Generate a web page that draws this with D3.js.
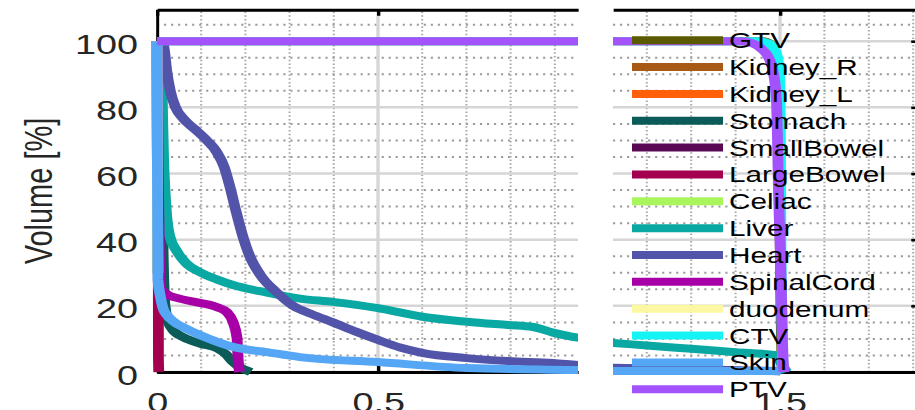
<!DOCTYPE html>
<html><head><meta charset="utf-8">
<script src="https://cdn.jsdelivr.net/npm/d3@7"></script>
<style>html,body{margin:0;padding:0;background:#fff;overflow:hidden}</style>
</head><body><svg id="c" width="915" height="410"></svg>
<script>
// ---------- data ----------
const structures = ["GTV","Kidney_R","Kidney_L","Stomach","SmallBowel","LargeBowel","Celiac","Liver","Heart","SpinalCord","duodenum","CTV","Skin","PTV"];
const colors = ["#5b5a00","#a85a14","#ff5f0a","#0b5c58","#5a0a55","#a3004f","#a8f55c","#0aa8a2","#5254aa","#a600a6","#fbf7a2","#14f4f4","#56a6f6","#a452fb"];

const gtvDose = [0, 1.46, 1.48, 1.492, 1.498, 1.502, 1.505];
const gtvVol  = [100, 100, 99, 95, 70, 20, 0];
const kidneyRDose = [0, 0.001, 0.002];
const kidneyRVol  = [100, 60, 30];
const kidneyLDose = [0, 0.001, 0.002];
const kidneyLVol  = [100, 60, 30];
const stomachDose = [0, 0.003, 0.007, 0.011, 0.014, 0.018, 0.026, 0.036, 0.06, 0.097, 0.136, 0.155, 0.172, 0.19, 0.205, 0.212];
const stomachVol  = [100, 95, 85, 60, 35, 20, 15, 12.7, 10.5, 8.6, 7.2, 5.5, 3.0, 1.2, 0.4, 0];
const smallBowelDose = [0, 0.001, 0.002];
const smallBowelVol  = [100, 60, 30];
const largeBowelDose = [0, 0.002, 0.003, 0.0032, 0.004];
const largeBowelVol  = [100, 60, 29, 5, 0];
const celiacDose = [0, 0.001, 0.002];
const celiacVol  = [100, 60, 30];
const liverDose = [0, 0.004, 0.011, 0.013, 0.015, 0.018, 0.022, 0.029, 0.045, 0.065, 0.097, 0.135, 0.172, 0.249, 0.3235, 0.398, 0.5, 0.6, 0.701, 0.794, 0.851, 0.896, 0.952, 1.124, 1.2, 1.3, 1.4, 1.49, 1.505, 1.515];
const liverVol  = [100, 96, 88, 75, 64, 55, 47, 41, 36.5, 33, 30.2, 28, 26.3, 24.0, 22.2, 21.2, 19.3, 16.7, 15.2, 14.2, 13.6, 11.9, 10.4, 8.8, 8.0, 7.0, 6.0, 5.1, 2, 0];
const heartDose = [0, 0.012, 0.017, 0.022, 0.03, 0.042, 0.06, 0.085, 0.113, 0.135, 0.152, 0.165, 0.178, 0.192, 0.21, 0.233, 0.2715, 0.3077, 0.35, 0.398, 0.45, 0.5, 0.55, 0.6, 0.701, 0.794, 0.896, 0.952, 1.124, 1.3, 1.45, 1.5, 1.505];
const heartVol  = [100, 100, 97, 91, 85, 80, 76.5, 73.5, 70, 66.5, 62, 56, 49, 42, 35, 29.5, 24, 20, 17.5, 15, 12.2, 9.7, 7.4, 5.8, 4.2, 3.3, 2.7, 2.1, 1.3, 0.8, 0.4, 0.2, 0];
const spinalCordDose = [0, 0.003, 0.006, 0.01, 0.025, 0.045, 0.097, 0.136, 0.158, 0.172, 0.181, 0.183, 0.186, 0.187];
const spinalCordVol  = [100, 60, 30, 25, 23.3, 22.4, 20.9, 19.6, 18.1, 15.1, 10.3, 5.1, 0.6, 0];
const duodenumDose = [0, 0.001, 0.002];
const duodenumVol  = [100, 60, 30];
const ctvDose = [0, 1.45, 1.475, 1.49, 1.497, 1.5, 1.501, 1.502, 1.504, 1.506, 1.507];
const ctvVol  = [100, 100, 99.3, 97, 93, 85, 70, 40, 20, 5, 0];
const skinDose = [0, 0.001, 0.002, 0.007, 0.0136, 0.0226, 0.036, 0.063, 0.097, 0.172, 0.249, 0.3235, 0.5, 0.701, 0.952, 1.124, 1.3, 1.45, 1.5, 1.505];
const skinVol  = [100, 60, 28, 23.3, 19.3, 17.2, 15.4, 13.3, 11.2, 7.6, 6.0, 4.5, 3.0, 1.2, 0.6, 0.3, 0.3, 0.3, 0.2, 0];
const ptvDose = [0, 1.41, 1.437, 1.459, 1.477, 1.486, 1.492, 1.4944, 1.4965, 1.5, 1.503, 1.505, 1.507, 1.509];
const ptvVol  = [100, 100, 99.4, 97.6, 94.3, 89.8, 82, 70, 55, 40, 25, 12, 4, 0];

const doses = [gtvDose, kidneyRDose, kidneyLDose, stomachDose, smallBowelDose, largeBowelDose, celiacDose, liverDose, heartDose, spinalCordDose, duodenumDose, ctvDose, skinDose, ptvDose];
const volumes = [gtvVol, kidneyRVol, kidneyLVol, stomachVol, smallBowelVol, largeBowelVol, celiacVol, liverVol, heartVol, spinalCordVol, duodenumVol, ctvVol, skinVol, ptvVol];

const xTicksLeft = [0, 0.5];
const xTicksRight = [1.5];
const yTicks = [0, 20, 40, 60, 80, 100];
const yLabel = "Volume [%]";

// ---------- layout ----------
const SX = 1.35; // horizontal stretch
const svg = d3.select("#c");
svg.append("rect").attr("width", 915).attr("height", 410).attr("fill", "#fff");
const g = svg.append("g").attr("transform", `scale(${SX},1)`);
const FONT = "'Liberation Sans', Arial, sans-serif";

const yMax = 109.5;
const y = d3.scaleLinear().domain([0, yMax]).range([372, 372 - 3.308 * yMax]);
const xL = d3.scaleLinear().domain([0, (578 - 157) / 442]).range([157 / SX, 578 / SX]);
const xR = d3.scaleLinear().domain([1.5 - (780 - 613) / 444, 1.5 + (920 - 780) / 444]).range([613 / SX, 920 / SX]);

const minorY = d3.range(0, 110, 5).filter(v => v % 20 !== 0);
const majorY = d3.range(0, 101, 20);

function grid(xs, minorX, majorX) {
  const [a, b] = xs.range();
  const gg = g.append("g");
  gg.selectAll(".hmin").data(minorY).join("line")
    .attr("x1", a).attr("x2", b).attr("y1", d => y(d)).attr("y2", d => y(d))
    .attr("stroke", "#9c9c9c").attr("stroke-width", 2).attr("stroke-dasharray", "1.6,3.6");
  gg.selectAll(".vmin").data(minorX).join("line")
    .attr("x1", d => xs(d)).attr("x2", d => xs(d)).attr("y1", y(0)).attr("y2", y(yMax))
    .attr("stroke", "#a8a8a8").attr("stroke-width", 1.5).attr("stroke-dasharray", "1.5,2.2");
  gg.selectAll(".hmaj").data(majorY).join("line")
    .attr("x1", a).attr("x2", b).attr("y1", d => y(d)).attr("y2", d => y(d))
    .attr("stroke", "#d6d6d6").attr("stroke-width", 2.5);
  gg.selectAll(".vmaj").data(majorX).join("line")
    .attr("x1", d => xs(d)).attr("x2", d => xs(d)).attr("y1", y(0)).attr("y2", y(yMax))
    .attr("stroke", "#d6d6d6").attr("stroke-width", 2.5);
}
grid(xL, [0.1,0.2,0.3,0.4,0.6,0.7,0.8,0.9], [0.5]);
grid(xR, [1.2,1.3,1.4,1.6,1.7,1.8], [1.5]);

function styleAxis(sel, domW) {
  sel.select(".domain").attr("stroke", "#000").attr("stroke-width", domW);
  sel.selectAll(".tick line").attr("stroke", "#000").attr("stroke-width", 2.5);
  sel.selectAll(".tick text").attr("fill", "#262626").attr("font-family", FONT).attr("font-size", 28);
}
// left panel axes
const yAx = g.append("g").attr("transform", `translate(${xL.range()[0]},0)`)
  .call(d3.axisLeft(y).tickValues(yTicks).tickSizeInner(-6.5).tickSizeOuter(0).tickPadding(14));
styleAxis(yAx, 2.2);
yAx.selectAll(".tick text").attr("dy", "0.43em");
const xbL = g.append("g").attr("transform", `translate(0,${y(0)})`)
  .call(d3.axisBottom(xL).tickValues(xTicksLeft).tickFormat(d3.format("~g")).tickSizeInner(-6).tickSizeOuter(0).tickPadding(20));
styleAxis(xbL, 3);
const xtL = g.append("g").attr("transform", `translate(0,${y(yMax)})`)
  .call(d3.axisTop(xL).tickValues(xTicksLeft).tickFormat("").tickSizeInner(-6).tickSizeOuter(0));
styleAxis(xtL, 3);
// right panel axes
const xbR = g.append("g").attr("transform", `translate(0,${y(0)})`)
  .call(d3.axisBottom(xR).tickValues(xTicksRight).tickFormat(d3.format("~g")).tickSizeInner(-6).tickSizeOuter(0).tickPadding(20));
styleAxis(xbR, 3);
const xtR = g.append("g").attr("transform", `translate(0,${y(yMax)})`)
  .call(d3.axisTop(xR).tickValues(xTicksRight).tickFormat("").tickSizeInner(-6).tickSizeOuter(0));
styleAxis(xtR, 3);
const yR = g.append("g").attr("transform", `translate(${xR.range()[1]},0)`)
  .call(d3.axisRight(y).tickValues(yTicks).tickFormat("").tickSizeInner(-6.5).tickSizeOuter(0));
styleAxis(yR, 2.2);

// y label
g.append("text").attr("transform", `translate(${52 / SX},191) rotate(-90)`)
  .attr("text-anchor", "middle").attr("font-family", FONT).attr("font-size", 29)
  .attr("fill", "#262626").text(yLabel);

// clip paths
const defs = svg.append("defs");
defs.append("clipPath").attr("id", "clipL").append("rect")
  .attr("x", 100).attr("y", 0).attr("width", xL.range()[1] - 100).attr("height", 410);
defs.append("clipPath").attr("id", "clipR").append("rect")
  .attr("x", xR.range()[0]).attr("y", 0).attr("width", 700 - xR.range()[0]).attr("height", 410);

function drawLines(xs, clipId) {
  const line = d3.line().x(d => xs(d[0])).y(d => y(d[1])).curve(d3.curveMonotoneX);
  const lg = g.append("g").attr("clip-path", `url(#${clipId})`);
  structures.forEach((s, i) => {
    const pts = doses[i].map((d, k) => [d, volumes[i][k]]);
    lg.append("path").attr("d", line(pts)).attr("fill", "none")
      .attr("stroke", colors[i]).attr("stroke-width", 8)
      .attr("stroke-linejoin", "round").attr("stroke-linecap", "butt");
  });
}
drawLines(xL, "clipL");
drawLines(xR, "clipR");

// legend
const leg = g.append("g");
structures.forEach((s, i) => {
  const yy = 40.2 + i * 26.85;
  leg.append("line").attr("x1", 632 / SX).attr("x2", 723 / SX).attr("y1", yy).attr("y2", yy)
    .attr("stroke", colors[i]).attr("stroke-width", 8);
  leg.append("text").attr("x", 729 / SX).attr("y", yy + 8).attr("font-family", FONT)
    .attr("font-size", 22).attr("fill", "#000").text(s);
});
</script></body></html>
